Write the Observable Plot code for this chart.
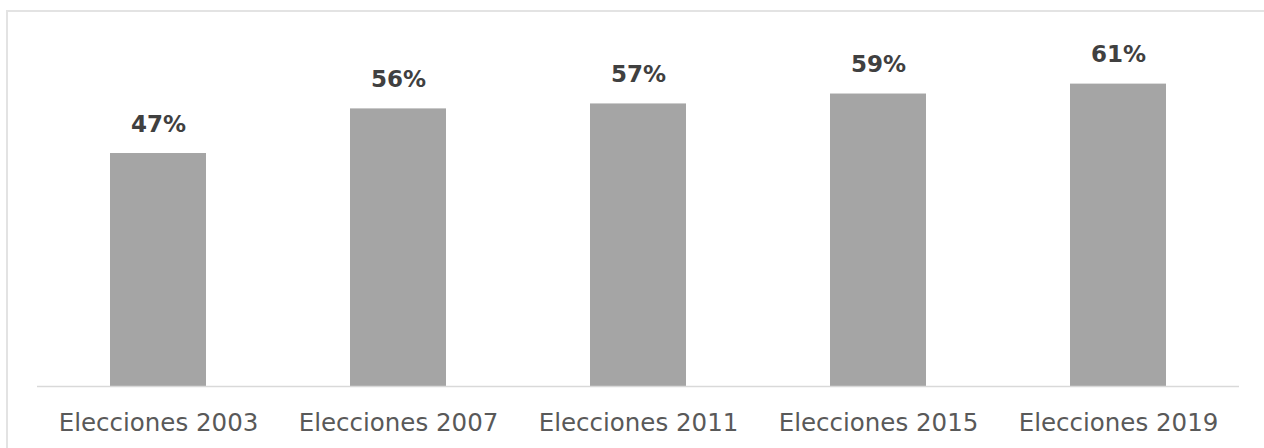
<!DOCTYPE html>
<html><head><meta charset="utf-8">
<script src="https://cdn.jsdelivr.net/npm/d3@7"></script>
<script src="https://cdn.jsdelivr.net/npm/@observablehq/plot@0.6"></script>
<style>
body{margin:0;background:#fff;overflow:hidden;}
#wrap{position:relative;width:1264px;height:448px;}
#border{position:absolute;left:6px;top:10px;width:1270px;height:460px;border:2px solid #e3e3e3;box-sizing:border-box;}
#chart{position:absolute;left:0;top:0;}
</style></head>
<body><div id="wrap"><div id="border"></div><div id="chart"></div></div>
<script>
const categories = ["Elecciones 2003","Elecciones 2007","Elecciones 2011","Elecciones 2015","Elecciones 2019"];
const values = [47, 56, 57, 59, 61];
const labels = ["47%","56%","57%","59%","61%"];
const data = categories.map((c,i)=>({cat:c, v:values[i], label:labels[i]}));
const chart = Plot.plot({
  width:1264, height:448,
  marginLeft:37, marginRight:25, marginTop:39, marginBottom:62,
  style:{fontFamily:"'DejaVu Sans', sans-serif", background:"transparent", color:"#595959"},
  x:{domain:categories, paddingInner:0.6, paddingOuter:0.3, label:null},
  y:{domain:[0,70], axis:null},
  marks:[
    Plot.barY(data,{x:"cat", y:"v", fill:"#a5a5a5"}),
    Plot.ruleY([0],{stroke:"#d9d9d9", strokeWidth:1.5}),
    Plot.text(data,{x:"cat", y:"v", text:"label", dy:-29, fontSize:23, fontWeight:"bold", fill:"#404040"}),
    Plot.axisX({tickSize:0, tickPadding:27, fontSize:24.5, fill:"#595959", label:null})
  ]
});
document.getElementById("chart").appendChild(chart);
</script></body></html>
